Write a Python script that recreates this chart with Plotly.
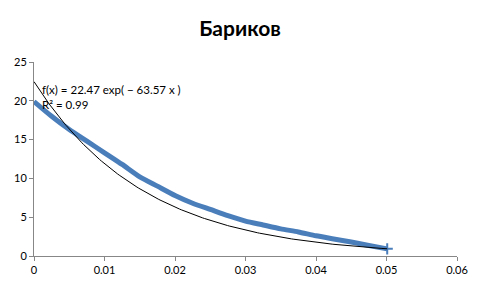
import numpy as np
import plotly.graph_objects as go

# Data
x_data = [0.0, 0.0025, 0.005, 0.0075, 0.01, 0.0125, 0.015, 0.0175, 0.02, 0.0225, 0.025,
          0.0275, 0.03, 0.0325, 0.035, 0.0375, 0.04, 0.0425, 0.045, 0.0475, 0.0501]
y_data = [19.9, 18.0, 16.3, 14.8, 13.3, 11.8, 10.2, 9.0, 7.8, 6.8, 6.0,
          5.2, 4.5, 4.0, 3.5, 3.1, 2.6, 2.2, 1.8, 1.35, 0.92]

# Exponential trendline parameters (as displayed)
fit_a = 22.47
fit_b = 63.57
fit_r2 = 0.99

title_text = "Бариков"

x_fit = np.linspace(min(x_data), max(x_data), 200)
y_fit = fit_a * np.exp(-fit_b * x_fit)

fig = go.Figure()
fig.add_trace(go.Scatter(
    x=x_data, y=y_data, mode="lines",
    line=dict(color="#4a7ebb", width=5, shape="spline", smoothing=0.6),
    showlegend=False, hoverinfo="skip"))
fig.add_trace(go.Scatter(
    x=[x_data[-1]], y=[y_data[-1]], mode="markers",
    marker=dict(symbol="cross-thin", size=8, line=dict(color="#4a7ebb", width=2)),
    showlegend=False, hoverinfo="skip"))
fig.add_trace(go.Scatter(
    x=x_fit, y=y_fit, mode="lines",
    line=dict(color="black", width=1),
    showlegend=False, hoverinfo="skip"))

fig.add_annotation(
    x=0.0008, y=20.45, xref="x", yref="y", xanchor="left", yanchor="middle",
    align="left",
    text=f"f(x) = {fit_a} exp( − {fit_b} x )<br>R² = {fit_r2}", showarrow=False,
    font=dict(family="Lato", size=11.5, color="black"))

axis_common = dict(
    showgrid=False, zeroline=False, showline=True, linecolor="#878787", linewidth=1,
    ticks="outside", ticklen=4, tickcolor="#878787",
    tickfont=dict(family="Lato", size=11, color="black"))

fig.update_layout(
    width=480, height=288,
    margin=dict(l=34, r=22, t=62, b=26),
    paper_bgcolor="white", plot_bgcolor="white",
    title=dict(text=f"<b>{title_text}</b>", x=0.5, xanchor="center", y=0.9, yanchor="middle",
               font=dict(family="Lato", size=21, color="black")),
    xaxis=dict(range=[0, 0.06], dtick=0.01, tick0=0, **axis_common),
    yaxis=dict(range=[0, 25], dtick=5, tick0=0, **axis_common),
)

fig.write_html("out.html")
